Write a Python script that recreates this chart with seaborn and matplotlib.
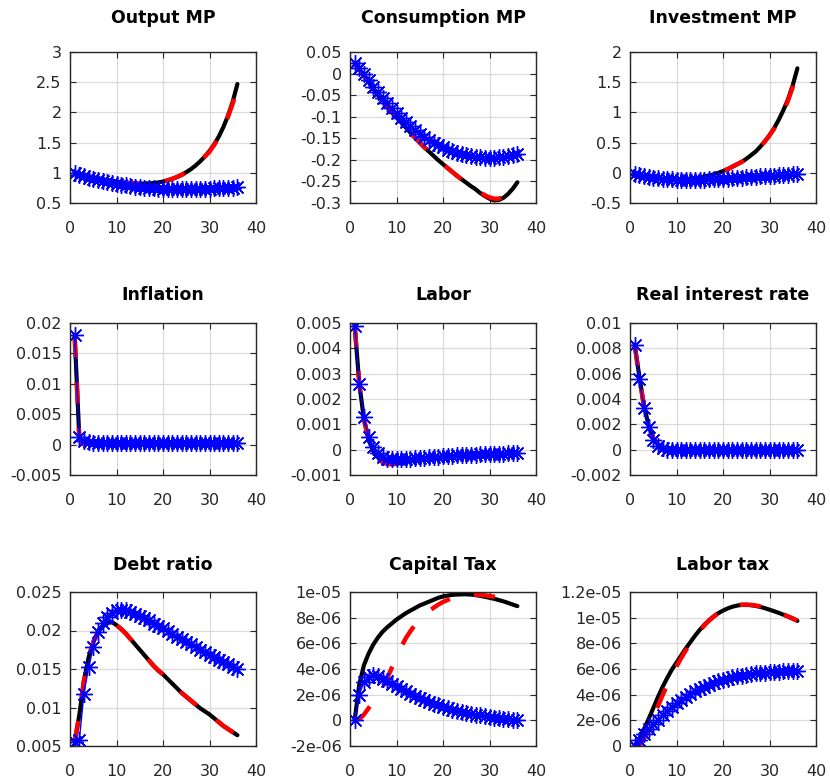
import numpy as np
import matplotlib
matplotlib.use("Agg")
import matplotlib.pyplot as plt
from matplotlib.ticker import FuncFormatter
import seaborn as sns

# horizon (periods after the shock)
steps = list(range(1, 37))

titles = ["Output MP", "Consumption MP", "Investment MP",
          "Inflation", "Labor", "Real interest rate",
          "Debt ratio", "Capital Tax", "Labor tax"]

# --- Output MP ---
output_black = [1.00, 0.98, 0.96, 0.94, 0.925, 0.91, 0.895, 0.88, 0.87, 0.855, 0.845, 0.835,
                0.83, 0.825, 0.82, 0.82, 0.825, 0.83, 0.84, 0.855, 0.875, 0.90, 0.93, 0.965,
                1.01, 1.06, 1.12, 1.19, 1.27, 1.36, 1.47, 1.60, 1.76, 1.95, 2.18, 2.47]
output_red = [1.00, 0.98, 0.96, 0.94, 0.925, 0.91, 0.895, 0.88, 0.87, 0.855, 0.845, 0.835,
              0.83, 0.825, 0.82, 0.82, 0.825, 0.83, 0.84, 0.855, 0.875, 0.90, 0.93, 0.965,
              1.01, 1.06, 1.12, 1.19, 1.27, 1.35, 1.46, 1.59, 1.75, 1.93, 2.15, 2.40]
output_blue = [1.00, 0.97, 0.945, 0.92, 0.90, 0.88, 0.86, 0.845, 0.83, 0.815, 0.80, 0.79,
               0.78, 0.77, 0.76, 0.755, 0.75, 0.745, 0.74, 0.735, 0.73, 0.73, 0.73, 0.73,
               0.73, 0.73, 0.735, 0.735, 0.74, 0.74, 0.745, 0.745, 0.75, 0.75, 0.755, 0.76]

# --- Consumption MP ---
cons_black = [0.025, 0.01, -0.005, -0.02, -0.035, -0.05, -0.063, -0.076, -0.089, -0.101, -0.113, -0.125,
              -0.137, -0.149, -0.16, -0.171, -0.181, -0.191, -0.201, -0.21, -0.219, -0.228, -0.237, -0.245,
              -0.253, -0.261, -0.268, -0.277, -0.284, -0.29, -0.294, -0.293, -0.288, -0.279, -0.267, -0.252]
cons_red = [0.025, 0.01, -0.005, -0.02, -0.035, -0.05, -0.063, -0.076, -0.089, -0.101, -0.113, -0.125,
            -0.137, -0.149, -0.16, -0.171, -0.181, -0.191, -0.201, -0.21, -0.219, -0.228, -0.237, -0.245,
            -0.253, -0.261, -0.268, -0.276, -0.282, -0.287, -0.29, -0.29, -0.286, -0.278, -0.268, -0.255]
cons_blue = [0.025, 0.012, -0.002, -0.016, -0.03, -0.043, -0.056, -0.068, -0.08, -0.091, -0.102, -0.112,
             -0.122, -0.131, -0.139, -0.147, -0.154, -0.16, -0.166, -0.171, -0.176, -0.18, -0.183, -0.186,
             -0.189, -0.191, -0.193, -0.194, -0.195, -0.195, -0.195, -0.194, -0.193, -0.191, -0.189, -0.187]

# --- Investment MP ---
inv_black = [-0.05, -0.06, -0.07, -0.08, -0.09, -0.095, -0.10, -0.105, -0.11, -0.11, -0.11, -0.105,
             -0.10, -0.09, -0.08, -0.065, -0.045, -0.025, 0.0, 0.03, 0.06, 0.10, 0.14, 0.18,
             0.23, 0.29, 0.35, 0.43, 0.52, 0.62, 0.74, 0.88, 1.04, 1.22, 1.45, 1.73]
inv_red = [-0.05, -0.06, -0.07, -0.08, -0.09, -0.095, -0.10, -0.105, -0.11, -0.11, -0.11, -0.105,
           -0.10, -0.09, -0.08, -0.065, -0.045, -0.025, 0.0, 0.03, 0.06, 0.10, 0.14, 0.18,
           0.23, 0.29, 0.35, 0.43, 0.52, 0.62, 0.73, 0.87, 1.02, 1.20, 1.42, 1.62]
inv_blue = [-0.02, -0.04, -0.055, -0.07, -0.08, -0.09, -0.10, -0.105, -0.11, -0.115, -0.12, -0.12,
            -0.12, -0.12, -0.115, -0.115, -0.11, -0.105, -0.10, -0.10, -0.095, -0.09, -0.085, -0.08,
            -0.075, -0.07, -0.065, -0.06, -0.055, -0.05, -0.045, -0.04, -0.035, -0.03, -0.025, -0.02]

# --- Inflation ---
infl_black = [0.018, 0.0012, 0.0002, 0.0001, 0.0, 0.0, 0.0, 0.0, 0.0, 0.0, 0.0, 0.0,
              0.0, 0.0, 0.0, 0.0, 0.0, 0.0, 0.0, 0.0, 0.0, 0.0, 0.0, 0.0,
              0.0, 0.0, 0.0, 0.0, 0.0, 0.0, 0.0, 0.0, 0.0, 0.0, 0.0, 0.0]
infl_red = [0.0178, 0.001, 0.0, -0.0001, -0.0001, -0.0001, -0.0001, -0.0001, -0.0001, -0.0001, -0.0001, -0.0001,
            -0.0001, -0.0001, -0.0001, -0.0001, -0.0001, -0.0001, -0.0001, -0.0001, -0.0001, -0.0001, -0.0001, -0.0001,
            -0.0001, -0.0001, -0.0001, -0.0001, -0.0001, -0.0001, -0.0001, -0.0001, -0.0001, -0.0001, -0.0001, -0.0001]
infl_blue = [0.0181, 0.0013, 0.0006, 0.0004, 0.0003, 0.0003, 0.0003, 0.0003, 0.0003, 0.0003, 0.0003, 0.0003,
             0.0003, 0.0003, 0.0003, 0.0003, 0.0003, 0.0003, 0.0003, 0.0003, 0.0003, 0.0003, 0.0003, 0.0003,
             0.0003, 0.0003, 0.0003, 0.0003, 0.0003, 0.0003, 0.0003, 0.0003, 0.0003, 0.0003, 0.0003, 0.0003]

# --- Labor ---
labor_black = [0.0049, 0.0026, 0.0012, 0.0004, -0.00005, -0.0003, -0.00045, -0.00053, -0.00056, -0.00055, -0.00052, -0.00049,
               -0.00046, -0.00043, -0.0004, -0.00038, -0.00036, -0.00034, -0.00032, -0.0003, -0.00029, -0.00028, -0.00026, -0.00025,
               -0.00024, -0.00023, -0.00022, -0.00021, -0.0002, -0.00019, -0.00018, -0.00018, -0.00017, -0.00016, -0.00016, -0.00015]
labor_red = [0.0049, 0.0026, 0.0012, 0.0004, -0.0001, -0.00035, -0.0005, -0.00056, -0.00058, -0.00056, -0.00053, -0.0005,
             -0.00047, -0.00044, -0.00041, -0.00038, -0.00036, -0.00034, -0.00032, -0.0003, -0.00029, -0.00028, -0.00026, -0.00025,
             -0.00024, -0.00023, -0.00022, -0.00021, -0.0002, -0.00019, -0.00018, -0.00018, -0.00017, -0.00016, -0.00016, -0.00015]
labor_blue = [0.0049, 0.0026, 0.0013, 0.0005, 0.0001, -0.00015, -0.0003, -0.00035, -0.00038, -0.00038, -0.00037, -0.00036,
              -0.00035, -0.00034, -0.00032, -0.00031, -0.0003, -0.00028, -0.00027, -0.00026, -0.00025, -0.00024, -0.00023, -0.00022,
              -0.00021, -0.0002, -0.0002, -0.00019, -0.00018, -0.00018, -0.00017, -0.00016, -0.00016, -0.00015, -0.00015, -0.00014]

# --- Real interest rate ---
rate_black = [0.0083, 0.0058, 0.0035, 0.0019, 0.0009, 0.0004, 0.0001, 0.0, -0.0001, -0.0001, -0.0001, -0.0001,
              -0.00008, -0.00008, -0.00007, -0.00007, -0.00006, -0.00006, -0.00005, -0.00005, -0.00005, -0.00005, -0.00004, -0.00004,
              -0.00004, -0.00004, -0.00003, -0.00003, -0.00003, -0.00003, -0.00003, -0.00002, -0.00002, -0.00002, -0.00002, -0.00002]
rate_red = [0.0083, 0.0057, 0.0034, 0.0019, 0.0009, 0.0004, 0.0001, 0.0, -0.0001, -0.0001, -0.0001, -0.0001,
            -0.00008, -0.00008, -0.00007, -0.00007, -0.00006, -0.00006, -0.00005, -0.00005, -0.00005, -0.00005, -0.00004, -0.00004,
            -0.00004, -0.00004, -0.00003, -0.00003, -0.00003, -0.00003, -0.00003, -0.00002, -0.00002, -0.00002, -0.00002, -0.00002]
rate_blue = [0.0083, 0.0056, 0.0033, 0.0018, 0.0008, 0.0003, 0.0001, 0.0, -0.00005, -0.00005, -0.00005, -0.00004,
             -0.00004, -0.00004, -0.00003, -0.00003, -0.00003, -0.00003, -0.00002, -0.00002, -0.00002, -0.00002, -0.00002, -0.00001,
             -0.00001, -0.00001, -0.00001, -0.00001, -0.00001, 0.0, 0.0, 0.0, 0.0, 0.0, 0.0, 0.0]

# --- Debt ratio ---
debt_black = [0.0055, 0.009, 0.0135, 0.0165, 0.0185, 0.0198, 0.0206, 0.021, 0.0211, 0.0207, 0.0202, 0.0196,
              0.0189, 0.0182, 0.0175, 0.0168, 0.0161, 0.0154, 0.0148, 0.0143, 0.0137, 0.0131, 0.0125, 0.0119,
              0.0114, 0.0109, 0.0104, 0.0099, 0.0095, 0.0091, 0.0086, 0.0081, 0.0076, 0.0072, 0.0068, 0.0064]
debt_red = [0.0055, 0.009, 0.0135, 0.0165, 0.0185, 0.0198, 0.0206, 0.021, 0.0211, 0.0207, 0.0202, 0.0196,
            0.0189, 0.0182, 0.0175, 0.0168, 0.0161, 0.0154, 0.0148, 0.0143, 0.0137, 0.0131, 0.0125, 0.0119,
            0.0114, 0.0109, 0.0104, 0.0099, 0.0095, 0.0091, 0.0086, 0.0081, 0.0076, 0.0072, 0.0068, 0.0065]
debt_blue = [0.0055, 0.0058, 0.0118, 0.0152, 0.0178, 0.0198, 0.021, 0.0218, 0.0223, 0.0226, 0.0227, 0.0226,
             0.0224, 0.0222, 0.0219, 0.0216, 0.0213, 0.0209, 0.0206, 0.0203, 0.0199, 0.0196, 0.0192, 0.0189,
             0.0185, 0.0182, 0.0178, 0.0175, 0.0172, 0.0168, 0.0165, 0.0162, 0.0159, 0.0156, 0.0153, 0.015]

# --- Capital Tax (in units of 1e-6) ---
ktax_black = [0.0, 2.8, 4.3, 5.2, 5.9, 6.45, 6.9, 7.25, 7.55, 7.85, 8.1, 8.35,
              8.55, 8.75, 8.95, 9.1, 9.25, 9.4, 9.55, 9.65, 9.72, 9.78, 9.8, 9.82,
              9.82, 9.8, 9.76, 9.7, 9.63, 9.55, 9.47, 9.37, 9.27, 9.15, 9.02, 8.9]
ktax_red = [0.0, 0.1, 0.45, 0.95, 1.45, 2.0, 2.6, 3.3, 4.1, 4.9, 5.7, 6.4,
            6.95, 7.45, 7.85, 8.2, 8.5, 8.78, 9.02, 9.22, 9.38, 9.52, 9.63, 9.72,
            9.77, 9.8, 9.8, 9.78, 9.74, 9.69, 9.63, 9.56, 9.48, 9.4, 9.3, 9.2]
ktax_blue = [0.0, 2.0, 3.0, 3.4, 3.55, 3.45, 3.25, 3.05, 2.85, 2.65, 2.45, 2.25,
             2.05, 1.9, 1.75, 1.6, 1.45, 1.3, 1.17, 1.05, 0.94, 0.84, 0.75, 0.66,
             0.58, 0.51, 0.44, 0.38, 0.32, 0.27, 0.22, 0.17, 0.13, 0.09, 0.05, 0.02]

# --- Labor tax (in units of 1e-6) ---
ltax_black = [0.0, 0.55, 1.3, 2.1, 2.95, 3.8, 4.6, 5.3, 5.95, 6.5, 7.05, 7.6,
              8.1, 8.6, 9.05, 9.45, 9.8, 10.1, 10.35, 10.55, 10.72, 10.85, 10.94, 11.0,
              11.0, 10.97, 10.92, 10.84, 10.74, 10.62, 10.5, 10.37, 10.23, 10.08, 9.92, 9.75]
ltax_red = [0.0, 0.1, 0.6, 1.3, 2.2, 3.1, 3.95, 4.75, 5.5, 6.2, 6.85, 7.45,
            8.0, 8.5, 8.97, 9.4, 9.77, 10.08, 10.34, 10.55, 10.72, 10.86, 10.95, 11.01,
            11.02, 11.0, 10.95, 10.87, 10.77, 10.65, 10.52, 10.39, 10.25, 10.1, 9.94, 9.78]
ltax_blue = [0.0, 0.45, 0.9, 1.3, 1.7, 2.05, 2.4, 2.75, 3.05, 3.35, 3.6, 3.85,
             4.05, 4.25, 4.45, 4.6, 4.75, 4.9, 5.03, 5.15, 5.25, 5.34, 5.42, 5.49,
             5.55, 5.6, 5.65, 5.69, 5.72, 5.75, 5.77, 5.79, 5.81, 5.82, 5.83, 5.84]

micro = 1e-6
series = [
    (output_black, output_red, output_blue),
    (cons_black, cons_red, cons_blue),
    (inv_black, inv_red, inv_blue),
    (infl_black, infl_red, infl_blue),
    (labor_black, labor_red, labor_blue),
    (rate_black, rate_red, rate_blue),
    (debt_black, debt_red, debt_blue),
    [np.array(s) * micro for s in (ktax_black, ktax_red, ktax_blue)],
    [np.array(s) * micro for s in (ltax_black, ltax_red, ltax_blue)],
]

# y axis: (low, high, number of ticks)
y_axes = [(0.5, 3, 6), (-0.3, 0.05, 8), (-0.5, 2, 6),
          (-0.005, 0.02, 6), (-0.001, 0.005, 7), (-0.002, 0.01, 7),
          (0.005, 0.025, 5), (-2e-6, 1e-5, 7), (0, 1.2e-5, 7)]

sns.set_style("whitegrid", {"grid.color": "#dadada", "axes.edgecolor": "#262626"})
plt.rcParams['font.family'] = ['DejaVu Sans']

fig = plt.figure(figsize=(8.3, 7.81), dpi=100)

col_left = [70, 350, 630]
row_top = [52, 323, 592]
row_bottom = [203, 475, 746]
title_pad = [21, 16.5, 16]
W, H = 830, 781

fmt = FuncFormatter(lambda v, p: '%g' % (round(v, 12) + 0.0))

for i, title in enumerate(titles):
    r, c = divmod(i, 3)
    ax = fig.add_axes([col_left[c] / W, 1 - row_bottom[r] / H,
                       186 / W, (row_bottom[r] - row_top[r]) / H])
    black, red, blue = series[i]
    sns.lineplot(x=steps, y=black, ax=ax, color='black', linewidth=3.0,
                 estimator=None)
    sns.lineplot(x=steps, y=red, ax=ax, color='#ff0000', linewidth=3.2,
                 linestyle=(0, (4.8, 5.5)), estimator=None)
    sns.lineplot(x=steps, y=blue, ax=ax, color='#0000ff', linewidth=1.0,
                 marker=(8, 2, 0), markersize=12, markeredgewidth=1.0,
                 markeredgecolor='#0000ff', estimator=None)

    lo, hi, n = y_axes[i]
    ax.set_xlim(0, 40)
    ax.set_xticks([0, 10, 20, 30, 40])
    ax.set_ylim(lo, hi)
    ax.set_yticks(np.linspace(lo, hi, n))
    ax.yaxis.set_major_formatter(fmt)
    ax.set_xlabel('')
    ax.set_ylabel('')
    ax.grid(True, color='#dadada', linewidth=0.9)
    ax.set_axisbelow(True)
    for sp in ax.spines.values():
        sp.set_visible(True)
        sp.set_color('#262626')
        sp.set_linewidth(1.0)
    ax.tick_params(which='both', direction='in', length=4, width=0.8,
                   top=True, right=True, bottom=True, left=True,
                   color='#262626', labelcolor='#262626', labelsize=11.5)
    ax.tick_params(axis='x', pad=13)
    ax.tick_params(axis='y', pad=6)
    ax.set_title(title, fontsize=12.5, fontweight='bold', color='black',
                 pad=title_pad[r])

fig.savefig('out.png', dpi=100)
